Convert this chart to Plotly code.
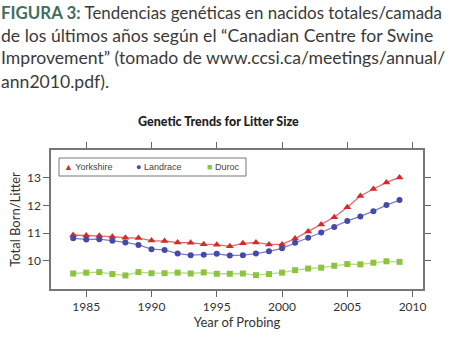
import plotly.graph_objects as go

years = list(range(1984, 2010))
yorkshire = [10.93, 10.91, 10.90, 10.87, 10.83, 10.82, 10.73, 10.71, 10.66, 10.65, 10.60, 10.58, 10.52,
             10.63, 10.66, 10.59, 10.59, 10.80, 11.06, 11.31, 11.57, 11.93, 12.34, 12.59, 12.83, 13.01]
landrace = [10.81, 10.77, 10.78, 10.72, 10.66, 10.57, 10.42, 10.39, 10.26, 10.20, 10.22, 10.25, 10.19,
            10.20, 10.26, 10.34, 10.45, 10.65, 10.83, 11.02, 11.22, 11.44, 11.60, 11.79, 12.01, 12.19]
duroc = [9.54, 9.57, 9.59, 9.52, 9.47, 9.59, 9.55, 9.55, 9.57, 9.54, 9.58, 9.53, 9.53,
         9.54, 9.48, 9.52, 9.57, 9.66, 9.72, 9.75, 9.82, 9.88, 9.87, 9.93, 9.98, 9.96]

x_ticks = [1985, 1990, 1995, 2000, 2005, 2010]
y_ticks = [10, 11, 12, 13]

caption_lines = [
    "<b><span style='color:#3f6e5f'>FIGURA 3:</span></b> Tendencias genéticas en nacidos totales/camada",
    "de los últimos años según el “Canadian Centre for Swine",
    "Improvement” (tomado de www.ccsi.ca/meetings/annual/",
    "ann2010.pdf).",
]
caption_sizes = [16.9, 17.6, 17.6, 17.6]

# plot area in pixels
L, R, T, B = 51, 27, 150, 55
W, H = 450, 344
PW, PH = W - L - R, H - T - B


def px(xp):
    return (xp - L) / PW


def py(yp):
    return (H - B - yp) / PH


fig = go.Figure()
series = [
    ("Yorkshire", yorkshire, "#d42a2a", "#e36a6a", "triangle-up", 7, "▲"),
    ("Landrace", landrace, "#4549a8", "#7a7ec8", "circle", 6, "●"),
    ("Duroc", duroc, "#8cc43c", "#b5dc7e", "square", 6, "■"),
]
for name, vals, mc, lc, sym, sz, glyph in series:
    fig.add_trace(go.Scatter(
        x=years, y=vals, name=name, mode="lines+markers",
        line=dict(color=lc, width=1.3),
        marker=dict(color=mc, symbol=sym, size=sz),
        showlegend=False,
    ))

axis_common = dict(
    showline=True, linecolor="#777777", linewidth=1.5, mirror="ticks",
    ticks="outside", ticklen=6, tickcolor="#666666", tickwidth=1,
    showgrid=False, zeroline=False,
    tickfont=dict(family="Lato, Open Sans, sans-serif", size=12, color="#333333"),
)

fig.update_layout(
    width=W, height=H,
    margin=dict(l=L, r=R, t=T, b=B),
    paper_bgcolor="white", plot_bgcolor="white",
    showlegend=False,
    xaxis=dict(range=[1982.3, 2010.8], tickvals=x_ticks,
               title=dict(text="Year of Probing", standoff=5,
                          font=dict(family="Lato, Open Sans, sans-serif", size=13, color="#333333")),
               **axis_common),
    yaxis=dict(range=[8.98, 14.0], tickvals=y_ticks,
               title=dict(text="Total Born/Litter", standoff=3,
                          font=dict(family="Lato, Open Sans, sans-serif", size=13, color="#333333")),
               **axis_common),
)

# legend box with entries
fig.add_shape(type="rect", xref="paper", yref="paper",
              x0=px(59), x1=px(246), y0=py(176), y1=py(158),
              line=dict(color="#777777", width=1), fillcolor="white", layer="above")
leg_x = [66, 138, 209]
for (name, vals, mc, lc, sym, sz, glyph), lx in zip(series, leg_x):
    fig.add_annotation(
        text=f"<span style='color:{mc}'>{glyph}</span> {name}",
        xref="paper", yref="paper", x=px(lx - 4), y=py(167),
        xanchor="left", yanchor="middle", showarrow=False,
        font=dict(family="Liberation Sans, Arial, sans-serif", size=9, color="#444444"),
    )

fig.add_annotation(
    text="Genetic Trends for Litter Size", xref="paper", yref="paper",
    x=px(218), y=py(121), xanchor="center", yanchor="middle", showarrow=False,
    font=dict(family="Lato, Open Sans, sans-serif", size=12.5, color="#222222", weight=900),
)

for i, (line, fs) in enumerate(zip(caption_lines, caption_sizes)):
    fig.add_annotation(
        text=line, xref="paper", yref="paper", xanchor="left", yanchor="middle",
        x=px(-1), y=py(12 + 23 * i), showarrow=False,
        font=dict(family="Lato, Open Sans, sans-serif", size=fs, color="#3a3a3a"),
    )

fig.write_html("out.html")
